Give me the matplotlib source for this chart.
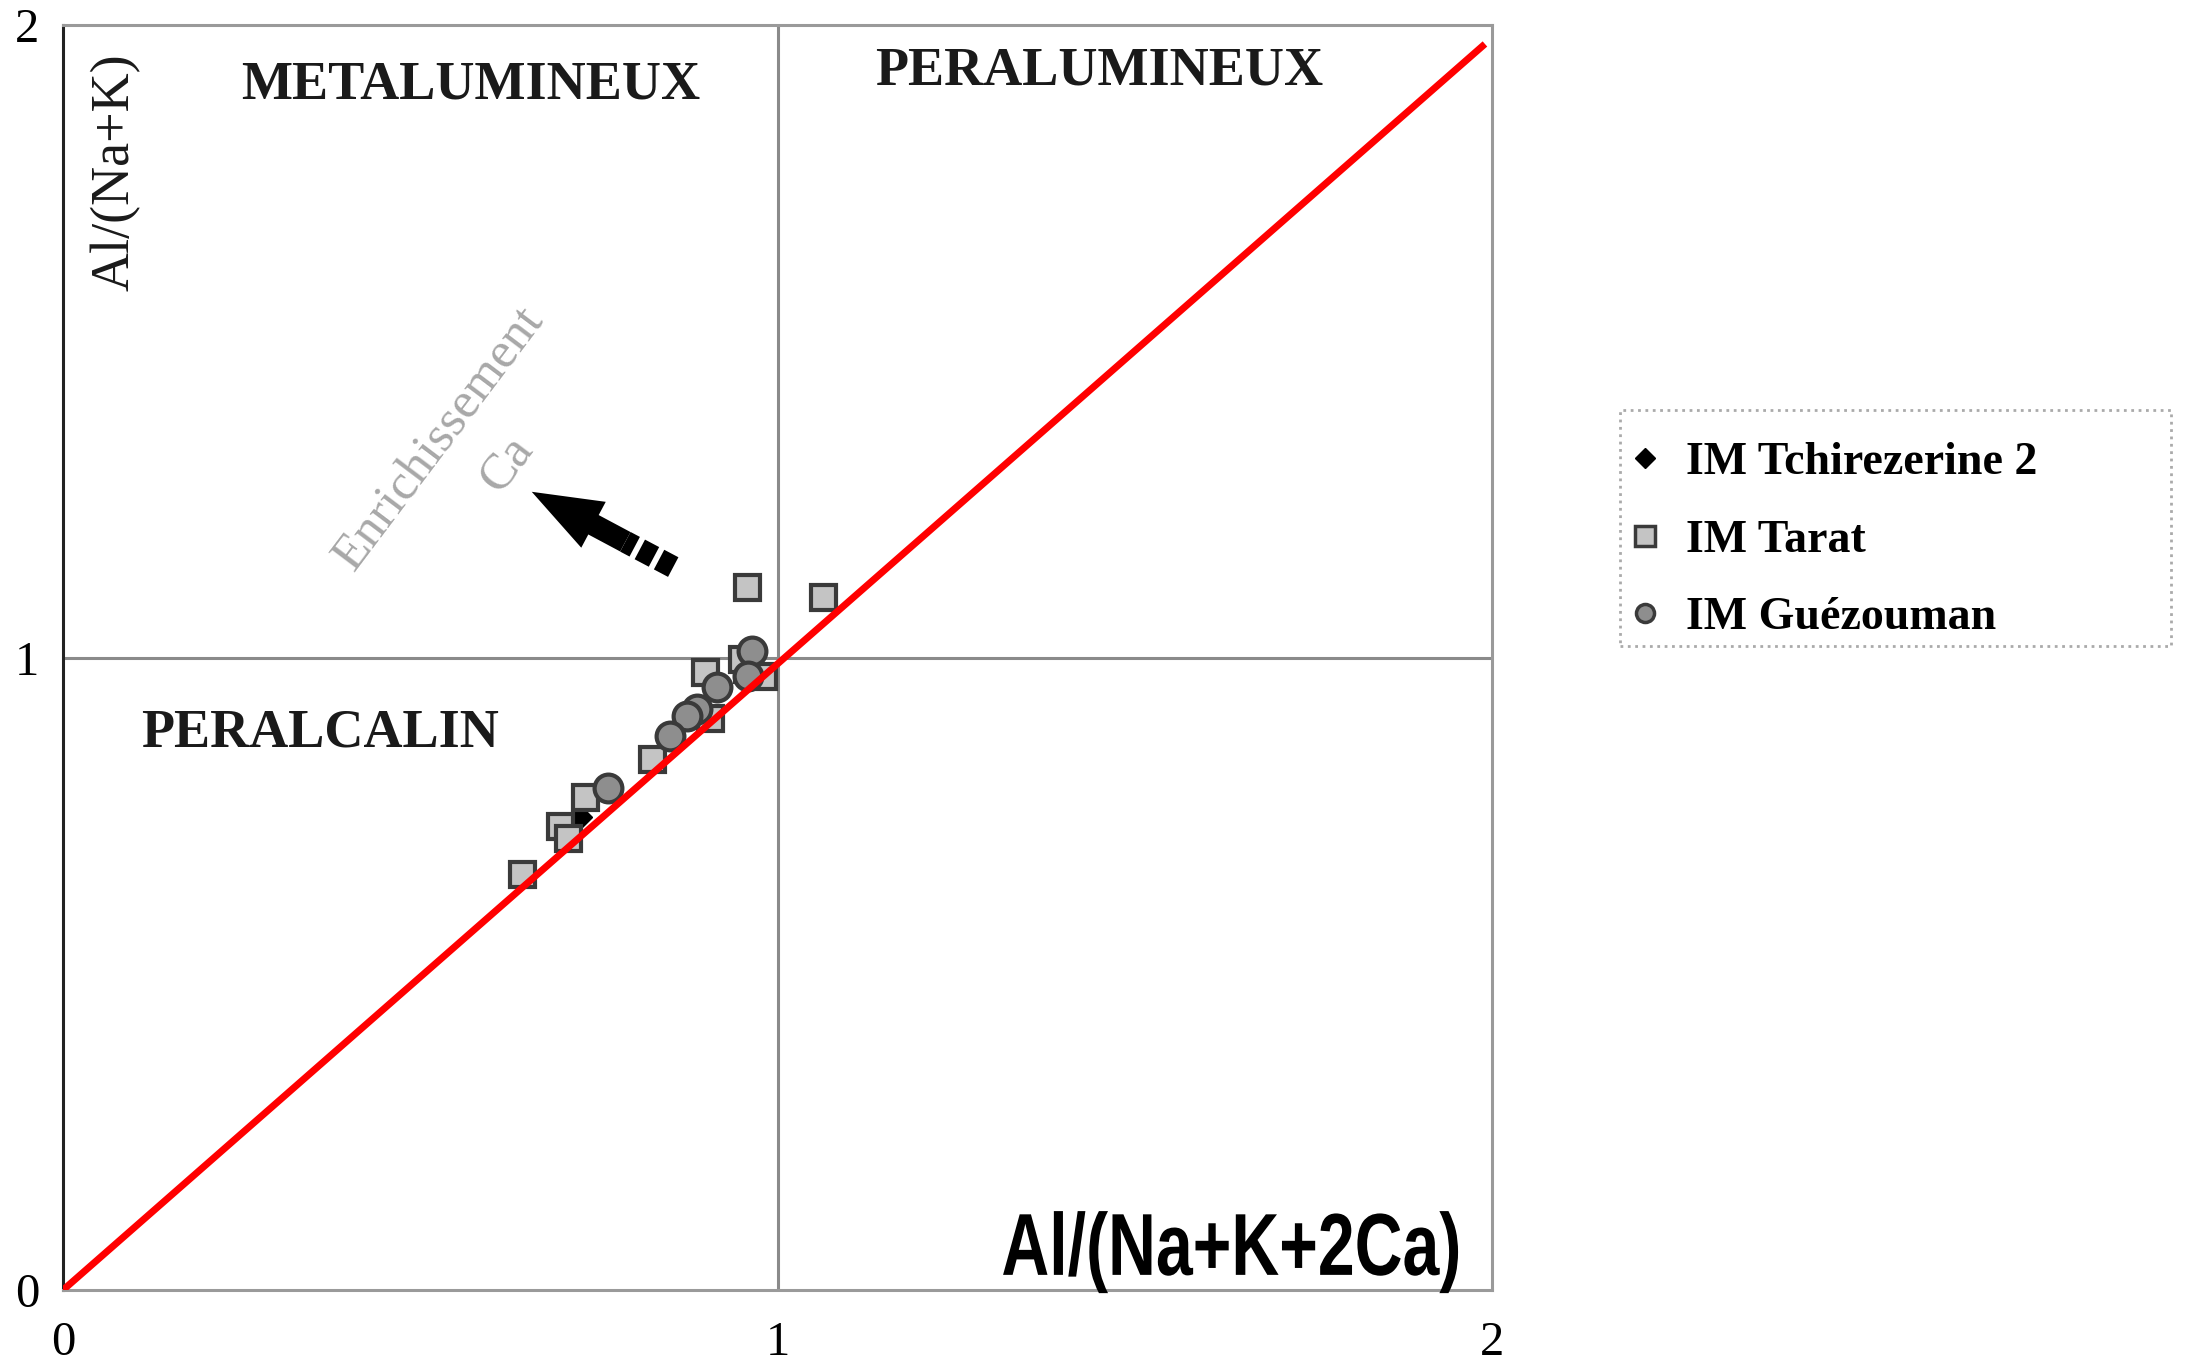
import matplotlib
matplotlib.use("Agg")
import matplotlib.pyplot as plt
from matplotlib.lines import Line2D
from matplotlib.patches import Rectangle, PathPatch, FancyArrow
from matplotlib.textpath import TextPath
from matplotlib.font_manager import FontProperties
from matplotlib.transforms import Affine2D, IdentityTransform

tarat_x = [0.957, 1.064, 0.899, 0.824, 0.731, 0.696, 0.642, 0.707, 0.906, 0.957, 0.980, 0.950]
tarat_y = [1.112, 1.096, 0.977, 0.839, 0.780, 0.733, 0.658, 0.714, 0.905, 0.982, 0.971, 0.998]
guez_x = [0.964, 0.959, 0.915, 0.887, 0.873, 0.850, 0.763]
guez_y = [1.011, 0.971, 0.953, 0.918, 0.908, 0.876, 0.793]
tchi_x = [0.724, 0.950]
tchi_y = [0.748, 1.000]
ligne_x = [0.0, 1.99]
ligne_y = [0.0, 1.97]
ticks = [0, 1, 2]

serif = ['Liberation Serif', 'DejaVu Serif']

fig = plt.figure(figsize=(22.03, 13.66), dpi=100)
ax = fig.add_axes([0.0286, 0.0556, 0.6487, 0.9261])
ax.set_xlim(0, 2)
ax.set_ylim(0, 2)

# lignes de séparation des domaines
ax.axvline(1, color='#8a8a8a', lw=2.2, zorder=1)
ax.axhline(1, color='#8a8a8a', lw=2.2, zorder=1)

for s in ['top', 'right', 'bottom']:
    ax.spines[s].set_color('#9a9a9a')
    ax.spines[s].set_linewidth(2.2)
ax.spines['left'].set_color('#222222')
ax.spines['left'].set_linewidth(2.2)

ax.set_xticks(ticks)
ax.set_yticks(ticks)
ax.set_xticklabels([str(t) for t in ticks], family=serif, fontsize=35)
ax.set_yticklabels([str(t) for t in ticks], family=serif, fontsize=35)
ax.tick_params(axis='x', length=0, pad=22)
ax.tick_params(axis='y', length=0, pad=17)

# points
ax.plot(tarat_x, tarat_y, 's', ms=18, mfc='#c4c4c4', mec='#3a3a3a', mew=3,
        label='IM Tarat', zorder=3)
ax.plot(guez_x, guez_y, 'o', ms=20, mfc='#8e8e8e', mec='#3a3a3a', mew=3,
        label='IM Guézouman', zorder=4)
ax.plot(tchi_x, tchi_y, 'D', ms=12, mfc='black', mec='black',
        label='IM Tchirezerine 2', zorder=2)

# droite rouge
ax.plot(ligne_x, ligne_y, color='#ff0000', lw=5, zorder=5, solid_capstyle='butt')

# textes des domaines
ax.text(0.571, 1.905, 'METALUMINEUX', family=serif, fontweight='bold',
        fontsize=39, ha='center', va='center', color='#1a1a1a')
ax.text(1.450, 1.927, 'PERALUMINEUX', family=serif, fontweight='bold',
        fontsize=39, ha='center', va='center', color='#1a1a1a')
ax.text(0.360, 0.880, 'PERALCALIN', family=serif, fontweight='bold',
        fontsize=39, ha='center', va='center', color='#1a1a1a')
ax.text(0.073, 1.768, 'Al/(Na+K)', family=serif, fontsize=39, rotation=90,
        ha='center', va='center', color='#1a1a1a')

# titre de l'axe x, police grasse étroite
tp = TextPath((0, 0), 'Al/(Na+K+2Ca)', size=88,
              prop=FontProperties(family='Liberation Sans', weight='bold'))
bb = tp.get_extents()
sx = 455 / bb.width
px, py = ax.transData.transform((1.634, 0.024))
tr = Affine2D().translate(-bb.x0 - bb.width / 2, 0).scale(sx, 1).translate(px, py)
fig.add_artist(PathPatch(tp, transform=tr, fc='black', ec='none'))

# enrichissement en Ca
ax.text(0.527, 1.345, 'Enrichissement', family=serif, fontsize=37, rotation=53,
        ha='center', va='center', color='#a8a8a8')
ax.text(0.621, 1.307, 'Ca', family=serif, fontsize=37, rotation=53,
        ha='center', va='center', color='#a8a8a8')

tip = ax.transData.transform((0.656, 1.262))
mid = ax.transData.transform((0.787, 1.183))
fig.add_artist(FancyArrow(mid[0], mid[1], tip[0] - mid[0], tip[1] - mid[1],
                          width=22, head_width=52, head_length=70,
                          length_includes_head=True, fc='black', ec='none',
                          transform=IdentityTransform()))
ax.plot([0.854, 0.787], [1.143, 1.183], color='black', lw=16,
        dashes=(0.72, 0.26), solid_capstyle='butt', zorder=3)

# légende
handles = [
    Line2D([], [], ls='none', marker='D', ms=10, mfc='black', mec='black'),
    Line2D([], [], ls='none', marker='s', ms=14, mfc='#c4c4c4', mec='#3a3a3a', mew=2.5),
    Line2D([], [], ls='none', marker='o', ms=13, mfc='#8e8e8e', mec='#3a3a3a', mew=2.5),
]
labels = ['IM Tchirezerine 2', 'IM Tarat', 'IM Guézouman']
fig.add_artist(Rectangle((0.7354, 0.527), 0.2501, 0.1729, transform=fig.transFigure,
                         fill=False, ec='#aaaaaa', lw=2, ls=':'))
fig.legend(handles, labels, loc='upper left', bbox_to_anchor=(0.7196, 0.703),
           frameon=False, prop={'family': serif, 'size': 33, 'weight': 'bold'},
           handletextpad=0.4, labelspacing=0.77, handlelength=1.0, borderpad=0.3)

fig.savefig('out.png', dpi=100)
